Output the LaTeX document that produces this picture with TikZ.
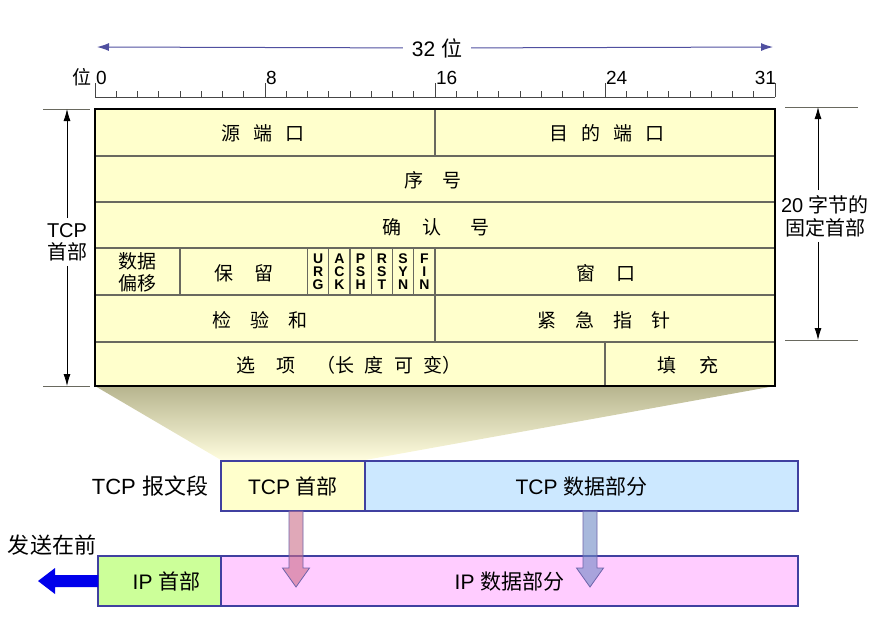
\documentclass[tikz,border=0pt]{standalone}
\usepackage{fontspec}
\setmainfont{Liberation Sans}
\newfontfamily\cjk{Noto Sans CJK SC}
\usetikzlibrary{arrows.meta,positioning}
\definecolor{hdrfill}{RGB}{255,255,204}
\definecolor{gridline}{RGB}{105,105,95}
\definecolor{rulerline}{RGB}{70,70,70}
\definecolor{spanline}{RGB}{80,80,160}
\definecolor{segline}{RGB}{64,64,160}
\definecolor{datablue}{RGB}{204,232,255}
\definecolor{ipgreen}{RGB}{204,255,153}
\definecolor{ippink}{RGB}{255,204,255}
\definecolor{funneltop}{RGB}{182,180,142}
\definecolor{funnelbot}{RGB}{255,253,222}
\definecolor{sendblue}{RGB}{0,0,235}
\definecolor{downred}{RGB}{203,110,137}
\definecolor{downblue}{RGB}{110,137,197}
\definecolor{downedge}{RGB}{110,100,170}

\begin{document}
\begin{tikzpicture}[
    x=1pt, y=-1pt,
    every node/.style={font=\fontsize{19}{22}\selectfont, inner sep=0pt, outer sep=0pt},
    field/.style={align=center},
    flag/.style={align=center, font=\fontsize{14}{13}\selectfont\bfseries},
    grid/.style={draw=gridline, line width=1.2pt},
    outer/.style={draw=black, line width=2.2pt},
    tick/.style={draw=rulerline, line width=0.9pt},
    span/.style={-{Latex[length=12pt,width=8pt]}, draw=spanline, line width=1pt},
    dim/.style={-{Latex[length=12pt,width=7pt]}, draw=black, line width=0.8pt},
    seg/.style={draw=segline, line width=1.6pt, minimum height=50pt, font=\fontsize{21}{24}\selectfont},
    downarr/.style={draw=downedge, line width=0.8pt, fill opacity=0.6}
  ]
    \useasboundingbox (0,0) rectangle (890,633);

    % funnel from the header to the segment
    \shade[top color=funneltop, bottom color=funnelbot] (95,386) -- (775,386) -- (365,460) -- (221,460) -- cycle;

    % header fields
    \fill[hdrfill] (95,109) rectangle (775,386);
    \foreach \y in {156,202,248,295,342}
      \draw[grid] (95,\y) -- (775,\y);
    \draw[grid] (435,109) -- (435,156);
    \draw[grid] (435,248) -- (435,342);
    \draw[grid] (180,248) -- (180,295);
    \foreach \k in {10,...,15}
      \draw[grid] ({95+21.25*\k},248) -- ({95+21.25*\k},295);
    \draw[grid] (605,342) -- (605,386);
    \draw[outer] (95,109) rectangle (775,386);

    \node[field] (srcport) at (263,133) {\cjk 源\hspace{0.7em}端\hspace{0.7em}口};
    \node[field] (dstport) at (607,133) {\cjk 目\hspace{0.7em}的\hspace{0.7em}端\hspace{0.7em}口};
    \node[field] (seqno) at (433,180) {\cjk 序\hspace{1em}号};
    \node[field] (ackno) at (436,227) {\cjk 确\hspace{1.1em}认\hspace{1.5em}号};
    \node[field] (offset) at (137.5,272) {\cjk 数据\\\cjk 偏移};
    \node[field] (reserved) at (243.75,273) {\cjk 保\hspace{1.1em}留};
    \foreach \a/\b/\c [count=\i from 0] in {U/R/G,A/C/K,P/S/H,R/S/T,S/Y/N,F/I/N}
      \node[flag] (flag\i) at ({318.125+21.25*\i},272) {\a\\\b\\\c};
    \node[field] (window) at (606,273) {\cjk 窗\hspace{1.1em}口};
    \node[field] (checksum) at (260,320) {\cjk 检\hspace{1em}验\hspace{1em}和};
    \node[field] (urgent) at (604,320) {\cjk 紧\hspace{1em}急\hspace{1em}指\hspace{1em}针};
    \node[field] (options) at (349,365) {\cjk 选\hspace{1.1em}项\hspace{1.1em}（长\hspace{0.55em}度\hspace{0.55em}可\hspace{0.55em}变）};
    \node[field] (padding) at (688,365) {\cjk 填\hspace{1.2em}充};

    % bit ruler
    \draw[tick] (95,97) -- (775,97);
    \foreach \k in {0,...,32}
      \draw[tick] ({95+21.25*\k},97) -- ++(0,-6);
    \foreach \k in {0,8,16,24,32}
      \draw[tick] ({95+21.25*\k},97) -- ++(0,-14);
    \foreach \k in {0,8,16,24}
      \node[anchor=base west] (bit\k) at ({96+21.25*\k},84) {\k};
    \node[anchor=base east] (bit31) at (776,84) {31};
    \node[anchor=base east] (bitword) at (91,84) {\cjk 位};

    \coordinate (spanl) at (97,47);
    \coordinate (spanr) at (773,47);
    \node[inner xsep=9pt, font=\fontsize{21}{24}\selectfont] (width) at (437,48) {32 {\cjk 位}};
    \draw[span] (width) -- (spanl);
    \draw[span] (width) -- (spanr);

    % header length brackets
    \draw[gridline, line width=0.8pt] (43,109) -- (90,109) (43,386) -- (90,386);
    \coordinate (ltop) at (67,109);
    \coordinate (lbot) at (67,386);
    \node[field, inner ysep=5pt, font=\fontsize{20}{22}\selectfont] (tcphdrlbl) at (67,242) {TCP\\\cjk 首部};
    \draw[dim] (tcphdrlbl) -- (ltop);
    \draw[dim] (tcphdrlbl) -- (lbot);

    \draw[gridline, line width=0.8pt] (785,107) -- (858,107) (785,340) -- (858,340);
    \coordinate (rtop) at (818,107);
    \coordinate (rbot) at (818,340);
    \node[field, inner ysep=5pt, font=\fontsize{20}{23}\selectfont] (fixedlbl) at (825,216) {20 {\cjk 字节的}\\\cjk 固定首部};
    \draw[dim] (fixedlbl.north -| rtop) -- (rtop);
    \draw[dim] (fixedlbl.south -| rbot) -- (rbot);

    % segment and datagram
    \node[seg, fill=hdrfill, minimum width=144pt] (tcphdr) at (293,486) {TCP {\cjk 首部}};
    \node[seg, fill=datablue, minimum width=433pt, right=0pt of tcphdr] (tcpdata) {TCP {\cjk 数据部分}};
    \node[left=13pt of tcphdr, font=\fontsize{22}{24}\selectfont] (seglbl) {TCP {\cjk 报文段}};

    \node[seg, fill=ipgreen, minimum width=123pt] (iphdr) at (159.5,581) {\hspace{14pt}IP {\cjk 首部}};
    \node[seg, fill=ippink, minimum width=577pt, right=0pt of iphdr] (ipdata) {IP {\cjk 数据部分}\hspace{36pt}};
    \node[font=\fontsize{22}{24}\selectfont] (sendlbl) at (52,545) {\cjk 发送在前};

    \fill[sendblue] (98,575) -- (55,575) -- (55,568) -- (38,581) -- (55,594) -- (55,587) -- (98,587) -- cycle;

    \filldraw[downarr, fill=downred] (289,511) -- (303,511) -- (303,568) -- (309.5,568) -- (296,587) -- (282.5,568) -- (289,568) -- cycle;
    \filldraw[downarr, fill=downblue] (583,511) -- (597,511) -- (597,568) -- (603.5,568) -- (590,587) -- (576.5,568) -- (583,568) -- cycle;
  \end{tikzpicture}
\end{document}
